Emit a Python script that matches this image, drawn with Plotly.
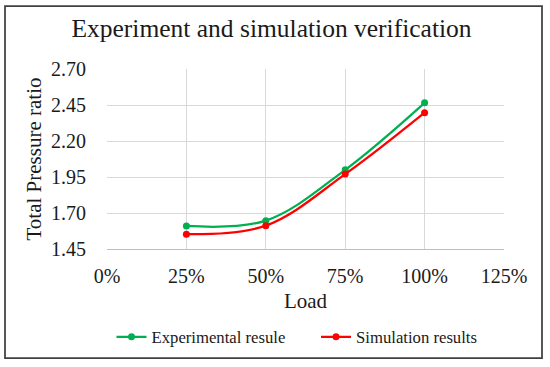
import plotly.graph_objects as go

load = [0.25, 0.50, 0.75, 1.00]
experimental = [1.61, 1.647, 2.00, 2.465]
simulation = [1.553, 1.612, 1.97, 2.397]
x_ticks = [0, 0.25, 0.5, 0.75, 1.0, 1.25]
y_ticks = [1.45, 1.70, 1.95, 2.20, 2.45, 2.70]

FONT = "Liberation Serif, Times New Roman, serif"
TXT = "#1a1a1a"

fig = go.Figure()
fig.add_trace(go.Scatter(x=load, y=experimental, name="Experimental resule", legend="legend",
                         mode="lines+markers", line=dict(color="#00b050", width=2.25, shape="spline", smoothing=1),
                         marker=dict(size=7, color="#00b050")))
fig.add_trace(go.Scatter(x=load, y=simulation, name="Simulation results", legend="legend2",
                         mode="lines+markers", line=dict(color="#ff0000", width=2.25, shape="spline", smoothing=1),
                         marker=dict(size=7, color="#ff0000")))

W, H = 550, 367
L, R, T, B = 107, W - 504, 69, H - 249
pw, ph = W - L - R, H - T - B

def px_x(p):
    return (p - L) / pw

def px_y(p):
    return (H - B - p) / ph

legend_common = dict(orientation="h", xanchor="left", yanchor="middle", y=px_y(337),
                     font=dict(size=16.7, family=FONT, color=TXT), bgcolor="rgba(0,0,0,0)")

fig.update_layout(
    width=W, height=H,
    margin=dict(l=L, r=R, t=T, b=B, autoexpand=False),
    paper_bgcolor="white", plot_bgcolor="white",
    font=dict(family=FONT, color=TXT),
    title=dict(text="Experiment and simulation verification", x=271.5 / W, xanchor="center",
               y=1 - 28 / H, yanchor="middle", font=dict(size=25.5, family=FONT, color=TXT)),
    xaxis=dict(range=[0, 1.25], tickvals=x_ticks, tickformat=".0%", showgrid=True,
               gridcolor="#d9d9d9", gridwidth=1, zeroline=False, showline=True, linecolor="#bfbfbf",
               ticks="outside", ticklen=9, tickcolor="rgba(0,0,0,0)",
               tickfont=dict(size=20, family=FONT, color=TXT),
               title=dict(text="Load", standoff=7, font=dict(size=21, family=FONT, color=TXT))),
    yaxis=dict(range=[1.45, 2.70], tickvals=y_ticks, tickformat=".2f", showgrid=True,
               gridcolor="#d9d9d9", gridwidth=1, zeroline=False,
               ticks="outside", ticklen=16, tickcolor="rgba(0,0,0,0)",
               tickfont=dict(size=20, family=FONT, color=TXT),
               title=dict(text="Total Pressure ratio", standoff=3, font=dict(size=21, family=FONT, color=TXT))),
    legend=dict(x=px_x(111.5), **legend_common),
    legend2=dict(x=px_x(316), **legend_common),
    showlegend=True,
)
fig.update_xaxes(automargin=False)
fig.update_yaxes(automargin=False)

# outer frame
fig.add_shape(type="rect", xref="paper", yref="paper",
              x0=px_x(5), x1=px_x(542),
              y0=px_y(358), y1=px_y(6),
              line=dict(color="#404040", width=1.75), fillcolor="rgba(0,0,0,0)", layer="below")

fig.write_html("out.html", config={"displayModeBar": False},
               post_script="document.body.style.margin='0';")
